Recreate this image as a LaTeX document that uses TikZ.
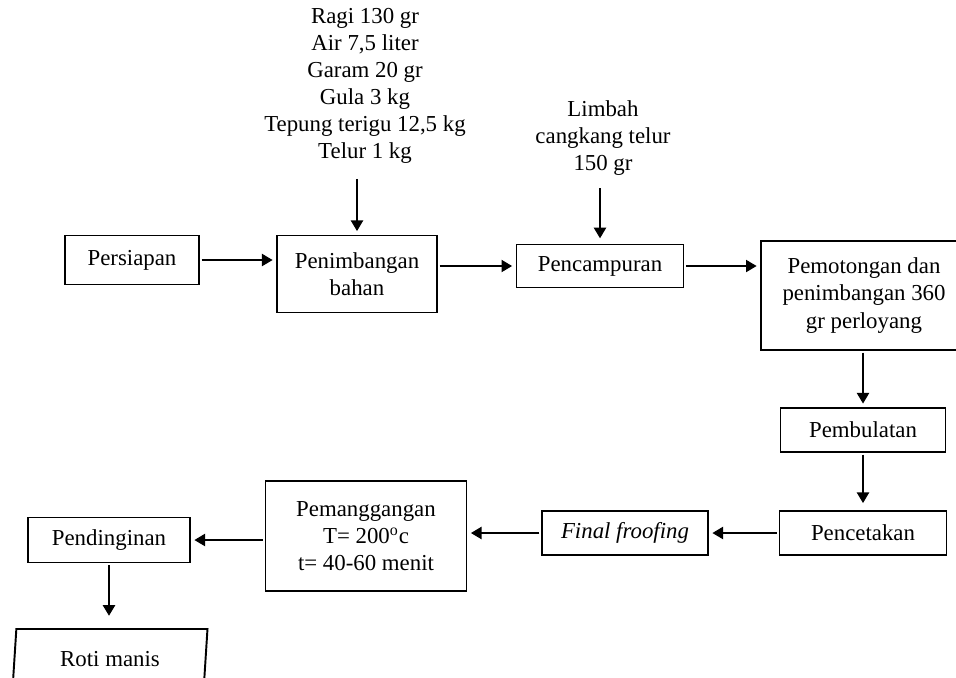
\documentclass[tikz,border=0pt]{standalone}
\usepackage{fontspec}
\setmainfont{Liberation Serif}
\usetikzlibrary{arrows.meta,shapes.geometric}
\tikzset{
    proses/.style={draw,line width=1.1pt,align=center,inner sep=0pt,font=\fontsize{13}{15.4}\selectfont},
    teks/.style={align=center,inner sep=0pt,font=\fontsize{13}{15.4}\selectfont},
    panah/.style={line width=0.6pt,-{Triangle[length=6pt,width=7pt]},shorten <=1pt,shorten >=2pt}
}
\begin{document}
\begin{tikzpicture}[x=0.02cm,y=-0.02cm]
    \clip(0,0) rectangle (956,677);
    \node[teks] (bahan) at (365,86) {Ragi 130 gr\\Air 7,5 liter\\Garam 20 gr\\Gula 3 kg\\Tepung terigu 12,5 kg\\Telur 1 kg};
    \node[teks] (limbah) at (603,138) {Limbah\\cangkang telur\\150 gr};
    \node[proses,minimum width=2.68cm,minimum height=0.98cm] (persiapan) at (132,260) {Persiapan};
    \node[proses,minimum width=3.2cm,minimum height=1.54cm] (penimbangan) at (357,274) {Penimbangan\\bahan};
    \node[proses,minimum width=3.34cm,minimum height=0.86cm] (pencampuran) at (600,266) {Pencampuran};
    \node[proses,minimum width=4.12cm,minimum height=2.18cm] (pemotongan) at (864,295.5) {Pemotongan dan\\penimbangan 360\\gr perloyang};
    \node[proses,minimum width=3.3cm,minimum height=0.88cm] (pembulatan) at (863,430) {Pembulatan};
    \node[proses,minimum width=3.34cm,minimum height=0.88cm] (pencetakan) at (863,533) {Pencetakan};
    \node[proses,minimum width=3.32cm,minimum height=0.88cm] (froofing) at (625,533) {\itshape Final froofing};
    \node[proses,minimum width=4.02cm,minimum height=2.2cm] (pemanggangan) at (366,536) {Pemanggangan\\T= 200\textsuperscript{o}c\\t= 40-60 menit};
    \node[proses,minimum width=3.24cm,minimum height=0.9cm] (pendinginan) at (109,540) {Pendinginan};
    \node[proses,trapezium,trapezium left angle=76,trapezium right angle=104,trapezium stretches body,minimum width=3.9cm,minimum height=1.2cm] (roti) at (110,659) {Roti manis};
    \draw[panah,shorten <=8.5pt] (penimbangan.north |- bahan.south) -- (penimbangan.north);
    \draw[panah,shorten <=7pt,shorten >=3pt] (pencampuran.north |- limbah.south) -- (pencampuran.north);
    \draw[panah] (persiapan.east) -- (persiapan.east -| penimbangan.west);
    \draw[panah] (penimbangan.east |- pencampuran.west) -- (pencampuran.west);
    \draw[panah] (pencampuran.east) -- (pencampuran.east -| pemotongan.west);
    \draw[panah] (pembulatan.north |- pemotongan.south) -- (pembulatan.north);
    \draw[panah,shorten >=4pt] (pembulatan.south) -- (pencetakan.north);
    \draw[panah] (pencetakan.west) -- (froofing.east);
    \draw[panah] (froofing.west) -- (froofing.west -| pemanggangan.east);
    \draw[panah] (pemanggangan.west |- pendinginan.east) -- (pendinginan.east);
    \draw[panah,shorten >=7pt] (pendinginan.south) -- (pendinginan.south |- roti.north);
\end{tikzpicture}
\end{document}
